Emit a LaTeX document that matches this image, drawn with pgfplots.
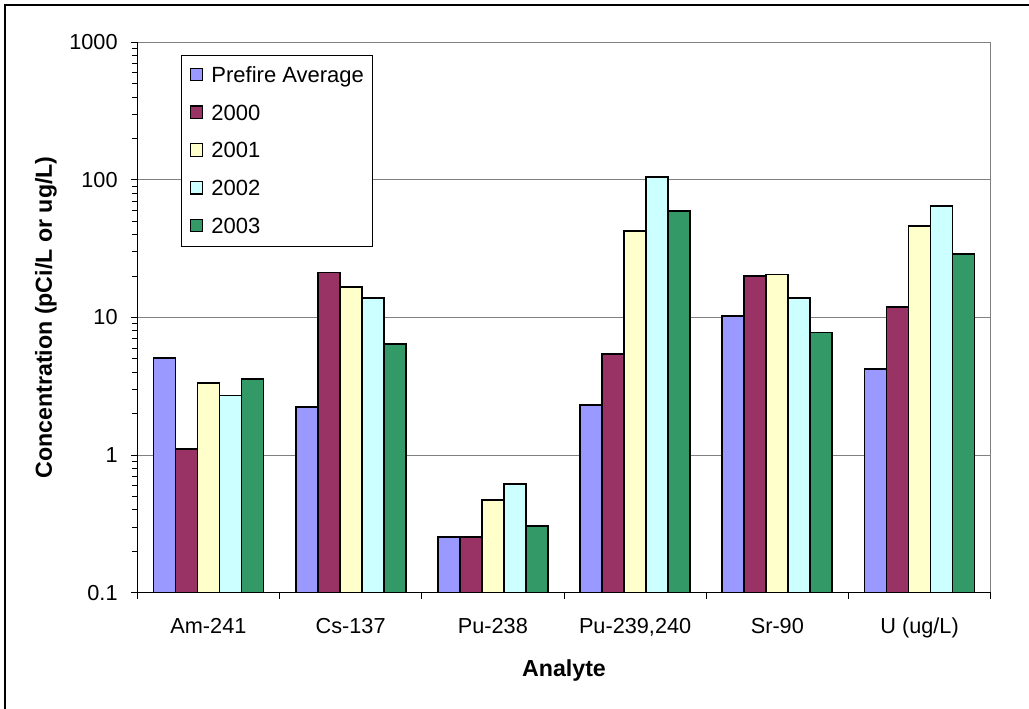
\documentclass[border=0pt]{standalone}
\usepackage{fontspec}
\setmainfont{Liberation Sans}
\usepackage{pgfplots}
\pgfplotsset{compat=1.18}
\definecolor{cPre}{RGB}{153,153,255}
\definecolor{c2000}{RGB}{153,51,102}
\definecolor{c2001}{RGB}{255,255,204}
\definecolor{c2002}{RGB}{204,255,255}
\definecolor{c2003}{RGB}{51,153,102}
\definecolor{gridgray}{RGB}{128,128,128}
\newcommand{\tickfont}{\fontsize{10.85}{13}\selectfont}
\newcommand{\titlefont}{\fontsize{11.6}{14}\selectfont\bfseries}
\begin{document}
\begin{tikzpicture}
\useasboundingbox (0,0) rectangle (514.5pt,354pt);
\draw[line width=0.7pt] (2.5pt,-3pt) -- (2.5pt,351.5pt) -- (518pt,351.5pt);
\begin{axis}[
  at={(68.65pt,57.65pt)}, anchor=south west,
  scale only axis, width=426.7pt, height=275.2pt,
  ybar=0pt, bar width=11pt,
  ymode=log, log origin=infty,
  ymin=0.1, ymax=1000,
  xmin=-0.5, xmax=5.5,
  ytick={0.1,1,10,100,1000},
  yticklabels={0.1,1,10,100,1000},
  xtick={-0.5,0.5,1.5,2.5,3.5,4.5,5.5},
  xticklabels={{},{},{},{},{},{},{}},
  extra x ticks={0,1,2,3,4,5},
  extra x tick labels={Am-241,Cs-137,Pu-238,{Pu-239,240},Sr-90,U (ug/L)},
  extra x tick style={major tick length=0pt, tick style={draw=none},
    xticklabel style={anchor=north, inner sep=0pt, text height=7.8pt, text depth=2.5pt, yshift=-12.2pt, font=\tickfont}},
  yticklabel style={font=\tickfont, inner sep=0pt, anchor=east, xshift=-6.65pt},
  tick align=outside, tick pos=left,
  major tick length=3pt,
  tick style={black, line width=0.5pt},
  minor tick num=0,
  ymajorgrids, yminorgrids=false,
  grid style={gridgray, line width=0.5pt},
  axis line style={draw=none},
  every axis x label/.style={at={(axis description cs:0.5,0)}, anchor=north, inner sep=0pt, text height=8.2pt, text depth=2.4pt, yshift=-33.65pt, font=\titlefont},
  every axis y label/.style={at={(axis description cs:-0.107,0.5)}, rotate=90, anchor=center, font=\titlefont},
  xlabel={Analyte},
  ylabel={Concentration (pCi/L or ug/L)},
  legend style={at={(axis description cs:0.0512,0.977)}, anchor=north west,
    draw=black, line width=0.6pt, fill=white,
    inner xsep=4.15pt, inner ysep=4pt,
    row sep=7.15pt, column sep=4pt,
    nodes={inner sep=0pt, text height=9.4pt, text depth=2.35pt, font=\fontsize{11}{13}\selectfont}},
  legend cell align=left,
  legend image code/.code={\draw[#1, draw=black, line width=0.6pt] (0pt,-2.7pt) rectangle (6.2pt,3.5pt);},
  after end axis/.code={
    \draw[gridgray, line width=0.5pt] (rel axis cs:1,0) -- (rel axis cs:1,1);
    \draw[black, line width=0.6pt] (rel axis cs:0,1) -- (rel axis cs:0,0) -- (rel axis cs:1,0);
  },
]
\addplot[fill=cPre, draw=black, line width=0.9pt] coordinates {(0,5.1) (1,2.25) (2,0.255) (3,2.31) (4,10.3) (5,4.25)};
\addplot[fill=c2000, draw=black, line width=0.9pt] coordinates {(0,1.11) (1,21.2) (2,0.255) (3,5.4) (4,19.9) (5,11.9)};
\addplot[fill=c2001, draw=black, line width=0.9pt] coordinates {(0,3.33) (1,16.6) (2,0.469) (3,42.6) (4,20.5) (5,46.5)};
\addplot[fill=c2002, draw=black, line width=0.9pt] coordinates {(0,2.71) (1,13.8) (2,0.617) (3,105) (4,13.9) (5,65)};
\addplot[fill=c2003, draw=black, line width=0.9pt] coordinates {(0,3.55) (1,6.46) (2,0.306) (3,59.6) (4,7.78) (5,28.8)};
\legend{Prefire Average,2000,2001,2002,2003}
\end{axis}
\end{tikzpicture}
\end{document}
